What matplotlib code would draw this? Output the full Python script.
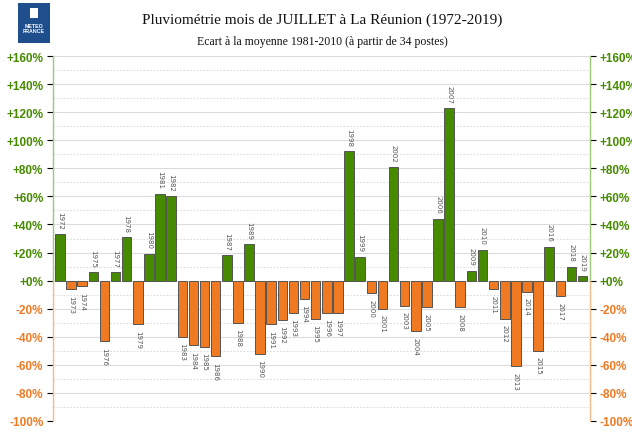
# -*- coding: utf-8 -*-
"""
Pluviométrie de juillet à La Réunion - écart à la moyenne 1981-2010
Sortie: out.png
"""
import numpy as np
import matplotlib
matplotlib.use("Agg")
from matplotlib import pyplot as plt
from matplotlib.patches import Rectangle

##############################################################################
# DONNÉES
##############################################################################

years = list(range(1972, 2020))
ecarts = [33, -6, -4, 6, -43, 6, 31, -31, 19, 62,
          60, -40, -46, -47, -54, 18, -30, 26, -52, -31,
          -28, -23, -13, -27, -23, -23, 92, 17, -9, -20,
          81, -18, -36, -19, 44, 123, -19, 7, 22, -6,
          -27, -61, -8, -50, 24, -11, 10, 3]

tick_values = list(range(-100, 161, 20))
tick_labels = [("+%d%%" % v) if v >= 0 else ("%d%%" % v) for v in tick_values]

title = "Pluviométrie mois de JUILLET à La Réunion (1972-2019)"
subtitle = "Ecart à la moyenne 1981-2010 (à partir de 34 postes)"

##############################################################################
# STYLE
##############################################################################

GREEN = '#468a00'
ORANGE = '#f07a22'
GREEN_AXIS = '#9dc97a'
ORANGE_AXIS = '#f6b98a'
GRID = '#dcdcdc'

##############################################################################
# TRACÉ
##############################################################################

fig = plt.figure(figsize=(6.32, 4.39), dpi=100)
ax = fig.add_axes([53 / 632, 1 - 422 / 439, (590 - 53) / 632, (422 - 57) / 439])

x = np.arange(len(years))
colors = [GREEN if v >= 0 else ORANGE for v in ecarts]
ax.bar(x, ecarts, width=0.86, color=colors, edgecolor='#555555',
       linewidth=0.7, zorder=3)

for xi, yr, v in zip(x, years, ecarts):
    if v >= 0:
        ax.annotate(str(yr), (xi, v), xytext=(0, 4), textcoords='offset points',
                    rotation=-90, ha='center', va='bottom', fontsize=5,
                    color='#555555', family='DejaVu Sans')
    else:
        ax.annotate(str(yr), (xi, v), xytext=(0, -4), textcoords='offset points',
                    rotation=-90, ha='center', va='top', fontsize=5,
                    color='#555555', family='DejaVu Sans')

# Grille: traits pleins tous les 20%, pointillés entre les deux
for v in range(-100, 161, 10):
    if v % 20 == 0:
        ax.axhline(v, color=GRID, linewidth=0.8, zorder=1)
    else:
        ax.axhline(v, color=GRID, linewidth=0.8, linestyle=(0, (1.5, 1.5)), zorder=1)

ax.set_xlim(-0.63, len(years) - 1 + 0.67)
ax.set_ylim(-100, 160)
ax.set_xticks([])

for s in ax.spines.values():
    s.set_visible(False)

# Axes verticaux bicolores (gauche et droite)
for xa in (0, 1):
    ax.plot([xa, xa], [0, 160], color=GREEN_AXIS, linewidth=1,
            transform=ax.get_yaxis_transform(), clip_on=False, zorder=4)
    ax.plot([xa, xa], [-100, 0], color=ORANGE_AXIS, linewidth=1,
            transform=ax.get_yaxis_transform(), clip_on=False, zorder=4)

ax.set_yticks(tick_values)
ax.set_yticklabels(tick_labels)
ax.tick_params(axis='y', which='major', direction='out', length=4, width=0.8,
               left=True, right=True, labelleft=True, labelright=True, pad=3)
for tick, v in zip(ax.yaxis.get_major_ticks(), tick_values):
    c = GREEN if v >= 0 else ORANGE
    ca = GREEN_AXIS if v >= 0 else ORANGE_AXIS
    tick.tick1line.set_color(ca)
    tick.tick2line.set_color(ca)
    for lab in (tick.label1, tick.label2):
        lab.set_color(c)
        lab.set_fontweight('bold')
        lab.set_fontsize(8.5)
        lab.set_family('Liberation Sans')

# Titres
fig.text(322 / 632, 1 - 20 / 439, title, ha='center', va='center',
         fontsize=11, family='Liberation Serif', color='#111111')
fig.text(322 / 632, 1 - 42 / 439, subtitle, ha='center', va='center',
         fontsize=8.5, family='Liberation Serif', color='#111111')

# Logo Météo-France (simplifié)
fig.patches.append(Rectangle((18 / 632, 1 - 44 / 439), 32 / 632, 40 / 439,
                             transform=fig.transFigure, facecolor='#1f4e8c',
                             edgecolor='none'))
fig.patches.append(Rectangle((30 / 632, 1 - 19 / 439), 8 / 632, 10 / 439,
                             transform=fig.transFigure, facecolor='white',
                             edgecolor='none'))
fig.text(34 / 632, 1 - 29 / 439, "METEO\nFRANCE", ha='center', va='center',
         fontsize=3.8, fontweight='bold', color='white', family='Liberation Sans',
         linespacing=1.0)

fig.savefig('out.png', dpi=100)
plt.close(fig)
